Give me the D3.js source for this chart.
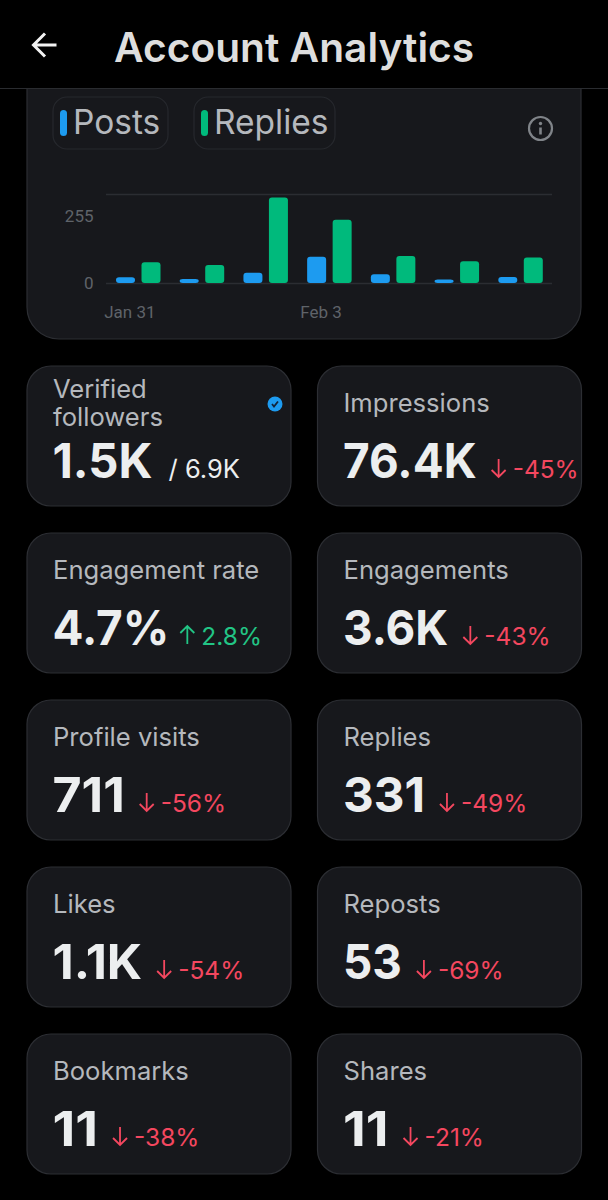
<!DOCTYPE html>
<html>
<head>
<meta charset="utf-8">
<script src="https://cdn.jsdelivr.net/npm/d3@7"></script>
<style>
    html, body { margin: 0; padding: 0; background: #000; }
    svg { display: block; }
    text { font-family: Inter, "Noto Sans", sans-serif; }
</style>
</head>
<body>
<svg width="608" height="1200"></svg>
<script>
// chart values
const days = ["Jan 31", "Feb 1", "Feb 2", "Feb 3", "Feb 4", "Feb 5", "Feb 6"];
const shownDays = ["Jan 31", "Feb 3"];
const posts = [22, 15, 39, 100, 33, 13, 23];
const replies = [79, 69, 327, 242, 103, 83, 97];
const yLabels = [0, 255];
const gridLines = [0, 340];
const legendNames = ["Posts", "Replies"];

const cardNames = ["Verified followers", "Impressions", "Engagement rate", "Engagements",
    "Profile visits", "Replies", "Likes", "Reposts", "Bookmarks", "Shares"];
const cardValues = ["1.5K", "76.4K", "4.7%", "3.6K", "711", "331", "1.1K", "53", "11", "11"];
const cardChanges = [null, "-45%", "2.8%", "-43%", "-56%", "-49%", "-54%", "-69%", "-38%", "-21%"];

const BLUE = "#1d9bf0", GREEN = "#00ba7c", RED = "#f4475f", UP = "#22c585",
    CARD = "#17181c", EDGE = "#2c2e33", GREY = "#b5b8bd", DIM = "#5f6369", WHITE = "#eceeef";

const svg = d3.select("svg");

// chart card sits under the header, so its top edge is hidden
svg.append("rect")
    .attr("x", 27).attr("y", 50)
    .attr("width", 554).attr("height", 289)
    .attr("rx", 32)
    .attr("fill", CARD).attr("stroke", EDGE).attr("stroke-width", 1.2);

// header
svg.append("rect").attr("width", 608).attr("height", 88).attr("fill", "#000");
svg.append("line")
    .attr("x1", 0).attr("x2", 608).attr("y1", 88.5).attr("y2", 88.5)
    .attr("stroke", "#2a2c30");
svg.append("path")
    .attr("d", "M56.5 45H34M45 33.5L33.5 45L45 56.5")
    .attr("fill", "none").attr("stroke", "#f2f2f2").attr("stroke-width", 3);
svg.append("text")
    .attr("x", 114).attr("y", 62)
    .attr("font-size", 40.7).attr("font-weight", 600)
    .attr("fill", "#dedede")
    .text("Account Analytics");

// legend chips
const chipX = [53, 194];
const chipW = [115, 141];
const legend = svg.selectAll(".chip")
    .data(legendNames)
    .enter().append("g")
    .attr("class", "chip")
    .attr("transform", function (d, i) { return "translate(" + chipX[i] + ",97)"; });
legend.append("rect")
    .attr("width", function (d, i) { return chipW[i]; })
    .attr("height", 52).attr("rx", 14)
    .attr("fill", "none").attr("stroke", "#26282d").attr("stroke-width", 1.2);
legend.append("rect")
    .attr("x", 7).attr("y", 13)
    .attr("width", 7).attr("height", 26).attr("rx", 3.5)
    .attr("fill", function (d, i) { return i === 0 ? BLUE : GREEN; });
legend.append("text")
    .attr("x", 20).attr("y", 37)
    .attr("font-size", 33.5).attr("fill", GREY)
    .attr("class", "chipText")
    .text(function (d) { return d; });

// info icon
const info = svg.append("g").attr("transform", "translate(540.5,128.5)");
info.append("circle").attr("r", 11.5).attr("fill", "none").attr("stroke", "#808489").attr("stroke-width", 2.2);
info.append("circle").attr("cy", -5).attr("r", 1.7).attr("fill", "#808489");
info.append("line").attr("y1", -1).attr("y2", 6).attr("stroke", "#808489").attr("stroke-width", 2.6);

// bars
const x = d3.scaleBand().domain(days).range([106, 552]);
const y = d3.scaleLinear().domain([0, gridLines[1]]).range([283, 194]);
const barWidth = 19;

svg.append("g").selectAll("line")
    .data(gridLines)
    .enter().append("line")
    .attr("x1", 106).attr("x2", 552)
    .attr("y1", function (d) { return y(d) + 0.5; })
    .attr("y2", function (d) { return y(d) + 0.5; })
    .attr("stroke", "#2b2d32").attr("stroke-width", 1.4);

function drawBars(values, offset, color) {
    svg.append("g").selectAll("rect")
        .data(values)
        .enter().append("rect")
        .attr("x", function (d, i) { return x(days[i]) + offset; })
        .attr("y", function (d) { return y(d); })
        .attr("width", barWidth)
        .attr("height", function (d) { return y(0) - y(d); })
        .attr("rx", 3)
        .attr("fill", color);
}
drawBars(posts, 10, BLUE);
drawBars(replies, 35.5, GREEN);

const yAxis = svg.append("g")
    .attr("transform", "translate(93.5,0)")
    .call(d3.axisLeft(y).tickValues(yLabels).tickSize(0).tickPadding(0));
const xAxis = svg.append("g")
    .attr("transform", "translate(-8,318)")
    .call(d3.axisBottom(x).tickValues(shownDays).tickSize(0).tickPadding(0));
[yAxis, xAxis].forEach(function (axis) {
    axis.select(".domain").remove();
    axis.selectAll("text")
        .style("font-family", "Roboto")
        .attr("font-size", 17)
        .attr("fill", DIM);
});
xAxis.selectAll("text").attr("y", 0).attr("dy", 0);

// metric cards
const cards = svg.selectAll(".card")
    .data(cardNames)
    .enter().append("g")
    .attr("class", "card")
    .attr("transform", function (d, i) {
        return "translate(" + (i % 2 === 0 ? 27 : 317.5) + "," + (366 + Math.floor(i / 2) * 167) + ")";
    });

cards.append("rect")
    .attr("width", 264).attr("height", 140).attr("rx", 24)
    .attr("fill", CARD).attr("stroke", EDGE).attr("stroke-width", 1.2);

cards.each(function (name, i) {
    const card = d3.select(this);

    // only the first card wraps its label
    const lines = i === 0 ? name.split(" ") : [name];
    card.selectAll(".label")
        .data(lines)
        .enter().append("text")
        .attr("class", "label")
        .attr("x", 26)
        .attr("y", function (d, k) { return i === 0 ? 32 + k * 28 : 46; })
        .attr("font-size", 25.6)
        .attr("fill", GREY)
        .text(function (d) { return d; });

    const value = card.append("text")
        .attr("x", 25.5).attr("y", 112)
        .attr("font-size", 48).attr("font-weight", 700)
        .attr("fill", WHITE)
        .text(cardValues[i]);

    // the app font is narrower than Inter, except for its wide "1"
    const ones = cardValues[i].split("1").length - 1;
    const valueWidth = value.node().getComputedTextLength() * 0.955 + ones * 3;
    value.attr("textLength", valueWidth).attr("lengthAdjust", "spacingAndGlyphs");
    // a trailing % leaves extra room in its advance width
    const valueEnd = 25.5 + valueWidth - (cardValues[i].slice(-1) === "%" ? 4 : 0);

    const change = cardChanges[i];
    if (change === null) {
        card.append("text")
            .attr("x", valueEnd + 16).attr("y", 112)
            .attr("font-size", 25.5)
            .attr("fill", WHITE)
            .text("/ 6.9K");
        const badge = card.append("g").attr("transform", "translate(248,38)");
        badge.append("circle").attr("r", 7.5).attr("fill", BLUE);
        badge.append("path")
            .attr("d", "M-3 0L-1 2.5L3 -2.5")
            .attr("fill", "none").attr("stroke", "#12233a").attr("stroke-width", 1.8);
        return;
    }

    const rising = change.charAt(0) !== "-";
    const color = rising ? UP : RED;
    const ax = valueEnd + 22;
    card.append("path")
        .attr("d", rising
            ? "M" + ax + " 111V93M" + (ax - 7) + " 100L" + ax + " 93L" + (ax + 7) + " 100"
            : "M" + ax + " 93V111M" + (ax - 7) + " 104L" + ax + " 111L" + (ax + 7) + " 104")
        .attr("fill", "none").attr("stroke", color).attr("stroke-width", 1.8);
    card.append("text")
        .attr("x", valueEnd + 36).attr("y", 112)
        .attr("font-size", 24.5)
        .attr("fill", color)
        .text(change);
});
</script>
</body>
</html>
